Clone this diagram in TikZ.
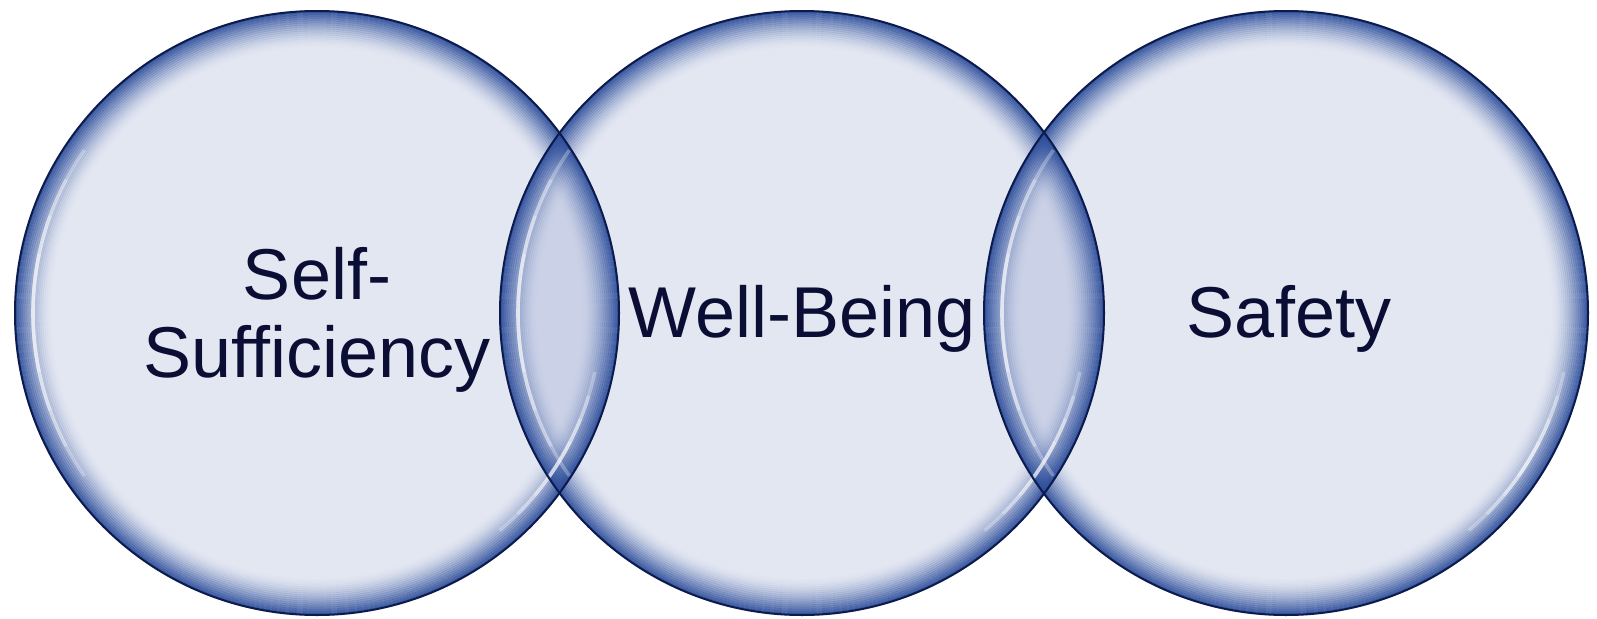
\documentclass[tikz,border=0pt]{standalone}
\usepackage{fontspec}
\setmainfont{Liberation Sans}
\definecolor{fillc}{RGB}{30,63,155}
\definecolor{rimc}{RGB}{45,78,155}
\definecolor{edgec}{RGB}{12,26,76}
\definecolor{textc}{RGB}{10,14,52}
\begin{document}
\begin{tikzpicture}[x=0.5pt,y=0.5pt,
  lbl/.style={font=\fontsize{36}{39}\selectfont, text=textc, align=center, inner sep=0pt},
  hl/.style={white, line width=1.8pt, draw opacity=0.28}]
\useasboundingbox (0,0) rectangle (1597,618);
\fill[white] (0,0) rectangle (1597,618);
\coordinate (cA) at (317,305);
\coordinate (cB) at (802,305);
\coordinate (cC) at (1286,305);
\def\R{303}
% translucent fills
\foreach \c in {cA,cB,cC} \fill[fillc, fill opacity=0.12] (\c) circle[radius=\R];
% rim gradient
\foreach \c in {cA,cB,cC} {
  \foreach \i in {0,...,17} {
    \pgfmathsetmacro\op{0.92*(1-\i/18)^1.7}
    \pgfmathsetmacro\rr{\R-2-2*\i}
    \draw[rimc, line width=1.1pt, draw opacity=\op] (\c) circle[radius=\rr];
  }
}
% highlights
\foreach \c in {cA,cB,cC} {
  \foreach \a/\b in {145/215,152/208,160/200,168/192}
    \draw[hl] (\c) ++(\a:284) arc[start angle=\a, end angle=\b, radius=284];
  \foreach \a/\b in {-50/-12,-45/-17,-40/-22,-35/-27}
    \draw[hl] (\c) ++(\a:284) arc[start angle=\a, end angle=\b, radius=284];
}
% outlines
\foreach \c in {cA,cB,cC} \draw[edgec, line width=1pt] (\c) circle[radius=\R-1];
% labels
\node[lbl, anchor=base] (t1) at (317,241) {Self-\\Sufficiency};
\node[lbl, anchor=base] (t2) at (802,281) {Well-Being};
\node[lbl, anchor=base] (t3) at (1289,281) {Safety};
\end{tikzpicture}
\end{document}
